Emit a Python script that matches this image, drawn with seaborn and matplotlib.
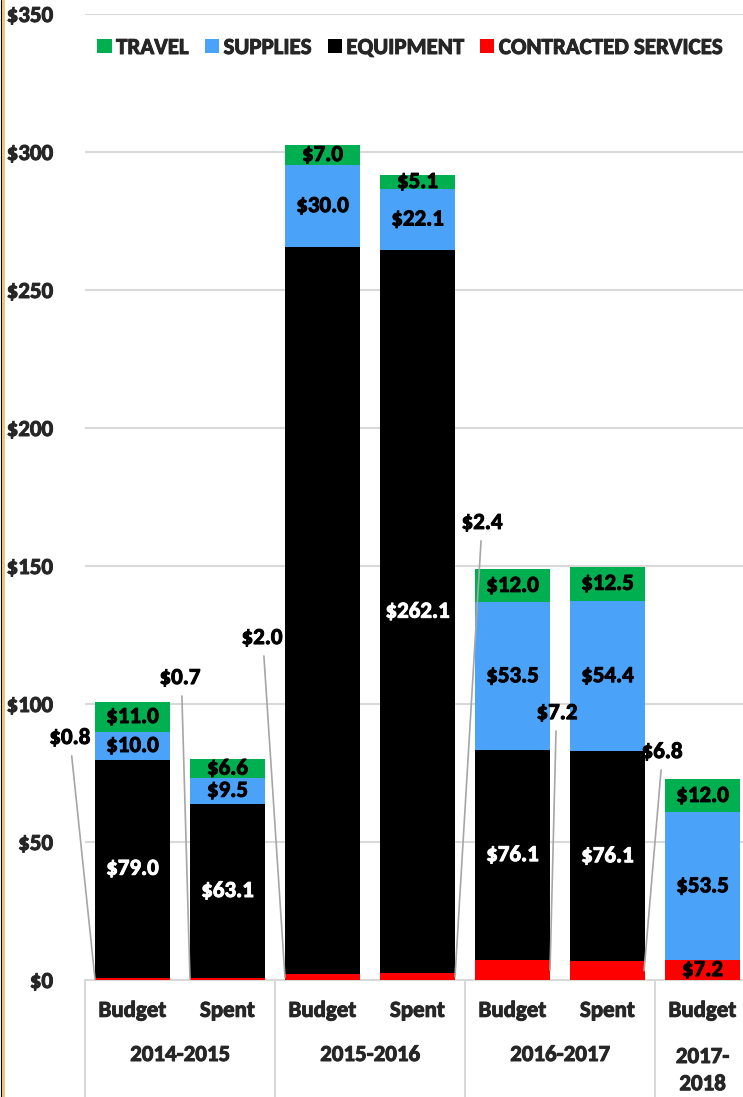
import matplotlib
matplotlib.use("Agg")
import matplotlib.pyplot as plt
import matplotlib.transforms as mtransforms
import matplotlib.patheffects as pe
from matplotlib.lines import Line2D
from matplotlib.patches import Patch
from matplotlib.text import Text
import numpy as np
import pandas as pd
import seaborn as sns

# ---- data ----
bar_ids = ["B1415", "S1415", "B1516", "S1516", "B1617", "S1617", "B1718"]
bar_kinds = ["Budget", "Spent", "Budget", "Spent", "Budget", "Spent", "Budget"]
years = ["2014-2015", "2015-2016", "2016-2017", "2017-\n2018"]
year_spans = [(0, 1), (2, 3), (4, 5), (6, 6)]
contracted = [0.8, 0.7, 2.0, 2.4, 7.2, 6.8, 7.2]
equipment = [79.0, 63.1, 263.4, 262.1, 76.1, 76.1, 0.0]
supplies = [10.0, 9.5, 30.0, 22.1, 53.5, 54.4, 53.5]
travel = [11.0, 6.6, 7.0, 5.1, 12.0, 12.5, 12.0]
series_names = ["TRAVEL", "SUPPLIES", "EQUIPMENT", "CONTRACTED SERVICES"]
yticks = [0, 50, 100, 150, 200, 250, 300, 350]

colors = {"TRAVEL": "#00B050", "SUPPLIES": "#4AA3F8",
          "EQUIPMENT": "#000000", "CONTRACTED SERVICES": "#FF0000"}

sns.set_theme(style="white")
plt.rcParams["font.family"] = ["Carlito", "DejaVu Sans"]
plt.rcParams["font.weight"] = "bold"
FS = 16.5

W, H = 743, 1097
fig = plt.figure(figsize=(W / 100, H / 100), dpi=100)
ax = fig.add_axes([85 / W, (H - 980) / H, 1 - 85 / W, (980 - 14) / H])

df = pd.DataFrame({"id": bar_ids, "contracted": contracted, "equipment": equipment,
                   "supplies": supplies, "travel": travel})
df["c1"] = df["contracted"]
df["c2"] = df["c1"] + df["equipment"]
df["c3"] = df["c2"] + df["supplies"]
df["c4"] = df["c3"] + df["travel"]

bw = 0.79
for col, name in [("c4", "TRAVEL"), ("c3", "SUPPLIES"), ("c2", "EQUIPMENT"),
                  ("c1", "CONTRACTED SERVICES")]:
    sns.barplot(data=df, x="id", y=col, order=bar_ids, color=colors[name],
                width=bw, saturation=1, ax=ax, errorbar=None, zorder=3,
                edgecolor="none")

ax.set_ylim(0, 350)
ax.set_xlim(-0.5, (743 - 132.5) / 95)
ax.set_yticks(yticks)
ax.set_yticklabels([f"${v}" for v in yticks], fontsize=FS, fontweight="bold")
ax.yaxis.grid(True, color="#D9D9D9", lw=1.5, zorder=0)
ax.xaxis.grid(False)
for s in ["top", "right", "left"]:
    ax.spines[s].set_visible(False)
ax.spines["bottom"].set_color("#D9D9D9")
ax.spines["bottom"].set_linewidth(1.5)
ax.tick_params(axis="y", length=0, pad=23)
ax.tick_params(axis="x", length=0, pad=15)
ax.set_xticks(range(len(bar_ids)))
ax.set_xticklabels(bar_kinds, fontsize=FS, fontweight="bold")
ax.set_xlabel("")
ax.set_ylabel("")

# segment labels
for i in range(len(bar_ids)):
    segs = [(0, contracted[i], "black"), (contracted[i], equipment[i], "white"),
            (contracted[i] + equipment[i], supplies[i], "black"),
            (contracted[i] + equipment[i] + supplies[i], travel[i], "black")]
    for k, (b, h, c) in enumerate(segs):
        if k == 0 and i != 6:
            continue
        if h <= 0 or (k == 1 and i == 2):
            continue
        ax.text(i, b + h / 2, f"${h:.1f}", ha="center", va="center", color=c,
                fontsize=FS, fontweight="bold", zorder=5)

# outside labels with leader lines for small contracted values
outside = {0: (-0.66, 87.7, -0.395), 1: (0.50, 109.4, 0.605),
           2: (1.363, 123.9, 1.605), 3: (3.679, 165.6, 3.395),
           4: (4.468, 96.7, 4.395), 5: (5.574, 82.6, 5.385)}
for i, (tx, ty, ex) in outside.items():
    ax.text(tx, ty, f"${contracted[i]:.1f}", ha="center", va="center",
            fontsize=FS, fontweight="bold", color="black", zorder=6,
            clip_on=False)
    ax.plot([tx + (0.02 if i < 3 else -0.01), ex], [ty - 6.5, contracted[i] / 2],
            color="#A6A6A6", lw=1.2, zorder=4, clip_on=False)

# two-level category separators and year labels
trans = mtransforms.blended_transform_factory(ax.transData, ax.transAxes)
axh = (980 - 14)
for xb in [-0.5, 1.5, 3.5, 5.5]:
    ax.add_line(Line2D([xb, xb], [0, -117 / axh], transform=trans,
                       color="#D9D9D9", lw=1.5, clip_on=False))
for (a, b), yr in zip(year_spans, years):
    if "\n" in yr:
        ax.text((a + b) / 2, -(1047 - 980) / axh, yr, transform=trans, ha="center",
                va="top", fontsize=FS, fontweight="bold", linespacing=1.45,
                clip_on=False)
    else:
        ax.text((a + b) / 2, -(1055 - 980) / axh, yr, transform=trans, ha="center",
                va="center", fontsize=FS, fontweight="bold", clip_on=False)

# legend
handles = [Patch(facecolor=colors[n], edgecolor="none", label=n) for n in series_names]
ax.legend(handles=handles, loc="center", bbox_to_anchor=((410 - 85) / 658, (980 - 48) / axh),
          ncol=4, frameon=False, handlelength=0.62, handleheight=0.6,
          handletextpad=0.2, columnspacing=0.7,
          prop={"weight": "bold", "size": FS})

# figure border on the left
fig.add_artist(Line2D([0.6 / W, 0.6 / W], [0, 1], color="black", lw=0.8,
                      transform=fig.transFigure))
fig.add_artist(Line2D([2.8 / W, 2.8 / W], [0, 1], color="#E9C46A", lw=2.0,
                      transform=fig.transFigure))

# slightly heavier text strokes
for t in fig.findobj(Text):
    if t.get_text():
        t.set_path_effects([pe.withStroke(linewidth=0.7, foreground=t.get_color())])

fig.savefig("out.png", dpi=100)
